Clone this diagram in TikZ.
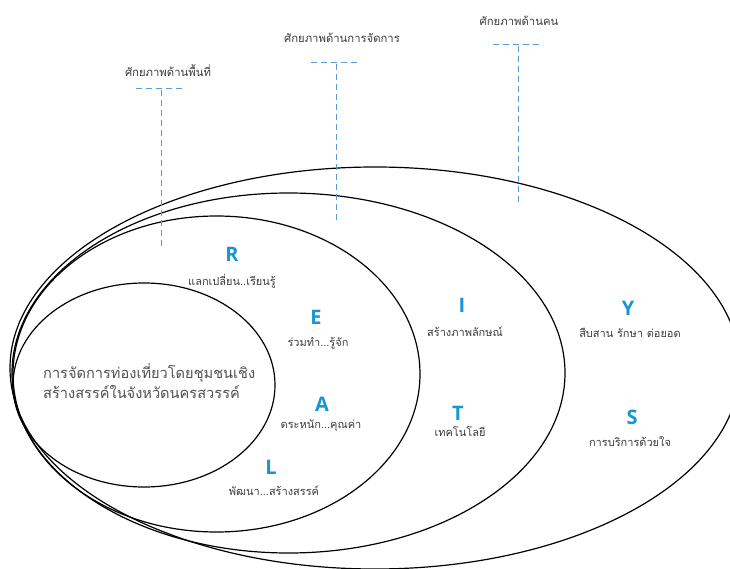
\documentclass[tikz,border=0pt]{standalone}
\usepackage{fontspec}
\newfontfamily\thaifont[Script=Thai]{Loma}
\newfontfamily\letterfont{Open Sans}
\definecolor{guideblue}{RGB}{91,155,213}
\definecolor{letterblue}{RGB}{22,150,212}
\definecolor{captiongray}{RGB}{60,60,60}
\definecolor{coregray}{RGB}{80,80,80}
\begin{document}
\begin{tikzpicture}[x=1pt,y=-1pt,
  ring/.style={draw=black, line width=1.2pt},
  guide/.style={draw=guideblue, line width=0.9pt, dash pattern=on 6pt off 4pt},
  letter/.style={text=letterblue, font=\letterfont\bfseries\fontsize{20}{20}\selectfont, inner sep=0pt},
  caption/.style={text=captiongray, font=\thaifont\fontsize{11}{13}\selectfont, inner sep=0pt},
  heading/.style={text=captiongray, font=\thaifont\fontsize{11.3}{13}\selectfont, inner sep=0pt},
  core/.style={text=coregray, font=\thaifont\fontsize{14.6}{20}\selectfont, inner sep=0pt, align=left}]
\useasboundingbox (0,0) rectangle (730,569);
\clip (0,0) rectangle (730,569);

% nested rings
\draw[ring] (375,368) ellipse [x radius=365, y radius=201];
\draw[ring] (288.5,373) ellipse [x radius=276.5, y radius=180];
\draw[ring] (216.5,374) ellipse [x radius=203.5, y radius=158];
\draw[ring] (144,385) ellipse [x radius=131, y radius=102];

% headings with their dashed guides
\node[heading] (hArea) at (168,71) {ศักยภาพด้านพื้นที่};
\node[heading] (hMgmt) at (342,38) {ศักยภาพด้านการจัดการ};
\node[heading] (hPeople) at (519,21) {ศักยภาพด้านคน};

\coordinate (gAreaL) at (136,88);  \coordinate (gAreaR) at (186,88);
\coordinate (gAreaT) at (161,90);  \coordinate (gAreaB) at (161,247);
\coordinate (gMgmtL) at (311,62);  \coordinate (gMgmtR) at (361,62);
\coordinate (gMgmtT) at (336,64);  \coordinate (gMgmtB) at (336,220);
\coordinate (gPeopleL) at (493,44); \coordinate (gPeopleR) at (543,44);
\coordinate (gPeopleT) at (518,46); \coordinate (gPeopleB) at (518,203);

\draw[guide] (gAreaL) -- (gAreaR);
\draw[guide] (gAreaT) -- (gAreaB);
\draw[guide] (gMgmtL) -- (gMgmtR);
\draw[guide] (gMgmtT) -- (gMgmtB);
\draw[guide] (gPeopleL) -- (gPeopleR);
\draw[guide] (gPeopleT) -- (gPeopleB);

% core
\node[core, anchor=west] (core) at (43,381) {การจัดการท่องเที่ยวโดยชุมชนเชิง\\สร้างสรรค์ในจังหวัดนครสวรรค์};

% REAL
\node[letter] (R) at (232,254) {R};
\node[caption] (Rt) at (232,281) {แลกเปลี่ยน..เรียนรู้};
\node[letter] (E) at (316,317) {E};
\node[caption] (Et) at (318,343) {ร่วมทำ...รู้จัก};
\node[letter] (A) at (322,404) {A};
\node[caption] (At) at (321,426) {ตระหนัก...คุณค่า};
\node[letter] (L) at (271,467) {L};
\node[caption] (Lt) at (274,491) {พัฒนา...สร้างสรรค์};

% IT
\node[letter] (I) at (462,305) {I};
\node[caption] (It) at (465,332) {สร้างภาพลักษณ์};
\node[letter] (T) at (458,413) {T};
\node[caption] (Tt) at (460,432) {เทคโนโลยี};

% YS
\node[letter] (Y) at (628,308) {Y};
\node[caption] (Yt) at (630,333) {สืบสาน รักษา ต่อยอด};
\node[letter] (S) at (632,417) {S};
\node[caption] (St) at (630,442) {การบริการด้วยใจ};
\end{tikzpicture}
\end{document}
